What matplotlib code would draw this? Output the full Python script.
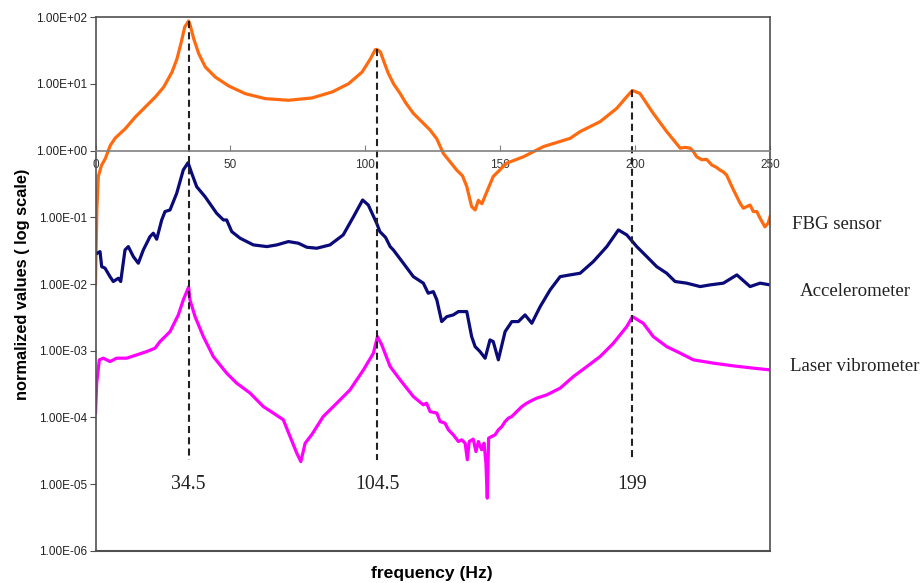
import matplotlib
matplotlib.use('Agg')
import matplotlib.pyplot as plt
from matplotlib.ticker import FuncFormatter, NullLocator

# FBG sensor response (normalized)
fbg_freq = [0.0, 0.5, 1.04, 2.2, 3.63, 5.49, 7.34, 11.05, 14.75, 18.46, 22.16, 25.28,
            28.35, 30.2, 31.8, 33.06, 34.5, 35.1, 36.4, 38.25, 40.7, 44.4, 49.4,
            55.5, 62.9, 71.6, 80.2, 87.7, 93.8, 98.8, 101.9, 103.7, 104.3, 105.6,
            107.0, 108.5, 110.5, 112.9, 115.0, 117.8, 124.0, 126.5, 128.9, 133.9,
            136.0, 137.6, 139.4, 140.7, 141.9, 143.2, 145.0, 147.4, 152.4, 158.6,
            166.0, 175.9, 179.6, 187.0, 193.2, 196.9, 199.0, 201.8, 206.7, 211.7,
            216.7, 218.5, 220.4, 221.6, 222.8, 224.7, 226.5, 228.4, 230.2, 231.5,
            232.7, 233.9, 236.4, 238.9, 240.1, 241.4, 242.6, 243.8, 245.1, 246.3,
            248.1, 249.3, 250.0]
fbg_vals = [1.0e-2, 1.3e-1, 4.1e-1, 6.0e-1, 0.76, 1.2, 1.55, 2.14, 3.2, 4.52, 6.38, 9.0,
            15.1, 23.9, 42.6, 71.6, 88.0, 75.9, 47.8, 28.5, 18.0, 12.7, 9.33,
            7.16, 6.03, 5.7, 6.17, 7.59, 10.1, 15.1, 23.9, 32.7, 33.0, 30.2,
            21.0, 14.5, 10.0, 7.2, 5.2, 3.63, 2.04, 1.5, 0.91, 0.51,
            0.42, 0.29, 0.145, 0.129, 0.18, 0.16, 0.24, 0.41, 0.65, 0.81,
            1.15, 1.53, 1.93, 2.72, 4.32, 6.46, 8.0, 7.2, 3.63, 1.93,
            1.09, 1.12, 1.09, 0.97, 0.81, 0.73, 0.74, 0.61, 0.56, 0.51,
            0.48, 0.43, 0.26, 0.163, 0.137, 0.145, 0.153, 0.122, 0.122, 0.097,
            0.072, 0.082, 0.102]

# Accelerometer response (normalized)
acc_freq = [0.67, 1.67, 2.3, 3.52, 5.37, 6.6, 8.45, 9.34, 10.93, 12.16, 14.01, 15.86,
            17.72, 20.2, 21.42, 22.68, 24.54, 25.76, 27.61, 30.1, 32.54, 34.3, 35.66,
            37.5, 40.6, 44.9, 47.4, 48.6, 50.5, 53.6, 58.5, 63.5, 67.2, 71.5, 75.2,
            78.3, 82.0, 86.9, 91.8, 95.6, 99.0, 101.1, 104.2, 105.4, 107.5, 109.2, 110.4,
            114.1, 117.8, 121.5, 123.3, 125.2, 126.5, 128.3, 130.2, 132.6, 134.5,
            137.6, 139.4, 140.7, 142.5, 144.4, 146.2, 147.4, 149.3, 151.8, 154.3,
            156.7, 159.2, 161.7, 164.8, 168.5, 172.2, 175.9, 179.6, 184.5, 189.5,
            193.8, 196.9, 200.6, 204.3, 208.0, 211.7, 214.8, 219.1, 224.1, 227.8,
            232.7, 237.7, 242.6, 246.3, 250.0]
acc_vals = [0.029, 0.0306, 0.0182, 0.0173, 0.0129, 0.0109, 0.0122, 0.0109, 0.0324,
            0.0364, 0.0258, 0.0205, 0.0324, 0.0514, 0.0578, 0.047, 0.0914, 0.122,
            0.129, 0.23, 0.514, 0.66, 0.458, 0.288, 0.204, 0.115, 0.0914, 0.0914,
            0.061, 0.0486, 0.0386, 0.0364, 0.0386, 0.0433, 0.0409, 0.0356, 0.0344,
            0.0386, 0.0545, 0.102, 0.182, 0.153, 0.0816, 0.061, 0.05, 0.0364, 0.0324,
            0.0205, 0.0129, 0.0103, 0.00728, 0.00769, 0.00578, 0.00273, 0.00324,
            0.00344, 0.00386, 0.00386, 0.00163, 0.00115, 0.00097, 0.00077, 0.00145,
            0.00137, 0.00073, 0.00193, 0.00273, 0.00273, 0.00344, 0.00258, 0.00458,
            0.00817, 0.0129, 0.0137, 0.0145, 0.0217, 0.0364, 0.0647, 0.0545, 0.0364,
            0.0258, 0.0182, 0.0145, 0.0109, 0.0103, 0.00915, 0.0097, 0.0103, 0.0137,
            0.00915, 0.0103, 0.0097]

# Laser vibrometer response (normalized)
las_freq = [0.0, 0.44, 1.41, 2.89, 5.37, 7.86, 11.56, 15.27, 18.98, 22.05, 23.9,
            27.61, 30.69, 32.54, 34.5, 35.0, 36.9, 39.96, 43.66, 48.6, 52.3, 57.3,
            62.2, 65.9, 69.6, 72.1, 74.6, 76.1, 77.7, 80.1, 84.4, 89.4, 94.3, 99.3,
            103.0, 104.5, 106.1, 109.2, 112.9, 117.8, 121.5, 122.7, 124.0, 126.5,
            127.7, 129.5, 130.8, 132.6, 134.5, 135.7, 137.0, 137.8, 138.5, 140.0,
            141.0, 141.9, 143.1, 144.0, 144.7, 145.2, 145.7, 146.8, 148.1, 149.3,
            150.6, 151.8, 153.0, 154.3, 156.1, 158.0, 159.8, 161.7, 163.5, 167.2,
            172.2, 177.1, 182.1, 187.0, 191.9, 196.9, 199.0, 203.0, 206.7, 211.7,
            216.7, 221.6, 229.0, 236.4, 243.8, 250.0]
las_vals = [1.16e-4, 3.26e-4, 7.28e-4, 7.72e-4, 6.87e-4, 7.72e-4, 7.72e-4, 8.65e-4,
            9.7e-4, 1.09e-3, 1.37e-3, 1.93e-3, 3.44e-3, 5.78e-3, 9.0e-3, 5.78e-3,
            3.24e-3, 1.63e-3, 8.16e-4, 4.6e-4, 3.26e-4, 2.31e-4, 1.45e-4, 1.16e-4,
            9.2e-5, 5.16e-5, 2.9e-5, 2.17e-5, 4.1e-5, 5.47e-5, 1.03e-4, 1.63e-4,
            2.58e-4, 5.15e-4, 9.18e-4, 1.63e-3, 1.22e-3, 5.78e-4, 3.65e-4, 2.05e-4,
            1.54e-4, 1.63e-4, 1.22e-4, 1.16e-4, 8.65e-5, 8.2e-5, 6.5e-5, 5.47e-5,
            4.34e-5, 4.6e-5, 4.1e-5, 2.31e-5, 4.34e-5, 4.71e-5, 3.07e-5, 4.34e-5,
            3.26e-5, 4.1e-5, 2.06e-5, 6.15e-6, 4.88e-5, 5.16e-5, 5.47e-5, 6.5e-5,
            7.28e-5, 8.65e-5, 9.73e-5, 1.03e-4, 1.22e-4, 1.45e-4, 1.63e-4, 1.79e-4,
            1.94e-4, 2.17e-4, 2.74e-4, 4.09e-4, 5.78e-4, 8.16e-4, 1.29e-3, 2.3e-3,
            3.24e-3, 2.58e-3, 1.63e-3, 1.15e-3, 9.18e-4, 7.28e-4, 6.5e-4, 5.92e-4,
            5.47e-4, 5.15e-4]

# resonance markers: frequency, top of the guide line
peak_freqs = [34.5, 104.5, 199]
peak_labels = ['34.5', '104.5', '199']
peak_tops = [88.0, 33.0, 8.0]
guide_bottom = 2.3e-5

series_names = ['FBG sensor', 'Accelerometer', 'Laser vibrometer']
series_label_pos = [(258.2, 0.079), (261.1, 7.6e-3), (257.4, 5.7e-4)]

fig = plt.figure(figsize=(9.21, 5.83), dpi=100)
ax = fig.add_axes([0.1037, 0.0554, 0.7324, 0.9149])

ax.plot(fbg_freq, fbg_vals, color='#FF6A10', lw=2.3)
ax.plot(acc_freq, acc_vals, color='#0A0A78', lw=2.3)
ax.plot(las_freq, las_vals, color='#FF00FF', lw=2.3)

for f, top in zip(peak_freqs, peak_tops):
    ax.plot([f, f], [top, guide_bottom], color='#222222', lw=1.5,
            linestyle=(0, (3.4, 2.0)))
for f, lab in zip(peak_freqs, peak_labels):
    ax.text(f, 1.0e-5, lab, ha='center', va='center', fontsize=14.3,
            family='Liberation Serif', color='#222222')

for name, (x, y) in zip(series_names, series_label_pos):
    ax.text(x, y, name, ha='left', va='center', fontsize=13.6,
            family='Liberation Serif', color='#222222', clip_on=False)

ax.set_yscale('log')
ax.set_xlim(0, 250)
ax.set_ylim(1e-6, 1e2)

# x axis runs through y = 1
ax.spines['bottom'].set_position(('data', 1.0))
ax.spines['bottom'].set_color('#808080')
ax.spines['bottom'].set_linewidth(1.2)
for side in ['left', 'top', 'right']:
    ax.spines[side].set_color('#505050')
    ax.spines[side].set_linewidth(1.2)
ax.plot([0, 1], [0, 0], transform=ax.transAxes, color='#505050', lw=1.5,
        clip_on=False)

ax.set_xticks([0, 50, 100, 150, 200, 250])
ax.tick_params(axis='x', direction='in', length=4, color='#808080', pad=6,
               labelsize=8.5, labelcolor='#333333')
ax.set_yticks([1e-6, 1e-5, 1e-4, 1e-3, 1e-2, 1e-1, 1e0, 1e1, 1e2])
ax.yaxis.set_minor_locator(NullLocator())
ax.yaxis.set_major_formatter(FuncFormatter(lambda v, p: f'{v:.2E}'))
ax.tick_params(axis='y', direction='out', length=4, color='#505050', pad=2,
               labelsize=8.5, labelcolor='#222222')
for lab in ax.get_xticklabels() + ax.get_yticklabels():
    lab.set_family('Liberation Sans')

fig.text(0.024, 0.513, 'normalized values ( log scale)', rotation=90,
         ha='center', va='center', fontsize=11.8, fontweight='bold',
         family='Liberation Sans')
fig.text(0.469, 0.017, 'frequency (Hz)', ha='center', va='center',
         fontsize=12.6, fontweight='bold', family='Liberation Sans')

fig.savefig('out.png', dpi=100)
